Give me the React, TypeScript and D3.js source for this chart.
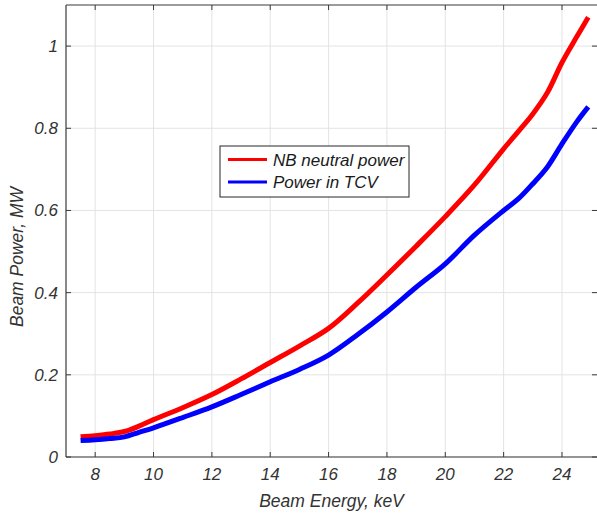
import React from "react";
import * as d3 from "d3";

const energy = [7.5, 8, 8.5, 9, 9.5, 10, 11, 12, 13, 14, 15, 16, 17, 18, 19, 20, 21, 22, 22.5, 23, 23.5, 24, 24.5, 24.9];
const nbNeutralPower = [0.049, 0.052, 0.056, 0.062, 0.075, 0.091, 0.12, 0.152, 0.19, 0.23, 0.27, 0.313, 0.375, 0.443, 0.513, 0.585, 0.662, 0.75, 0.792, 0.835, 0.887, 0.96, 1.022, 1.07];
const powerInTCV = [0.04, 0.042, 0.045, 0.049, 0.06, 0.071, 0.096, 0.122, 0.152, 0.183, 0.213, 0.248, 0.298, 0.353, 0.413, 0.47, 0.54, 0.6, 0.628, 0.665, 0.706, 0.762, 0.815, 0.852];
const xTicks = [8, 10, 12, 14, 16, 18, 20, 22, 24];
const yTicks = [0, 0.2, 0.4, 0.6, 0.8, 1];
const yTickLabels = ["0", "0.2", "0.4", "0.6", "0.8", "1"];
const seriesNames = ["NB neutral power", "Power in TCV"];
const seriesColors = ["#ff0000", "#0000ff"];

const W = 597, H = 515;
const L = 66, R = 597, T = 5, B = 457;

export default function App() {
  const x = d3.scaleLinear().domain([7, 25.2]).range([L, R]);
  const y = d3.scaleLinear().domain([0, 1.1]).range([B, T]);
  const line = d3.line<number>().x((_, i) => x(energy[i])).y((d) => y(d)).curve(d3.curveCatmullRom.alpha(0.5));
  const series = [nbNeutralPower, powerInTCV];
  const font = "'Liberation Sans', Arial, sans-serif";
  const axisColor = "#3a3a3a";
  const textColor = "#333";
  return (
    <svg width={W} height={H} style={{ position: "absolute", left: 0, top: 0, background: "#fff" }} fontFamily={font}>
      <rect x={0} y={0} width={W} height={H} fill="#fff" />
      {xTicks.map((t) => (
        <line key={"gx" + t} x1={x(t)} x2={x(t)} y1={T} y2={B} stroke="#e3e3e3" strokeWidth={1} />
      ))}
      {yTicks.map((t) => (
        <line key={"gy" + t} x1={L} x2={R} y1={y(t)} y2={y(t)} stroke="#e3e3e3" strokeWidth={1} />
      ))}
      {series.map((s, k) => (
        <path key={k} d={line(s) || ""} fill="none" stroke={seriesColors[k]} strokeWidth={5} strokeLinejoin="round" />
      ))}
      <line x1={L} x2={R} y1={T} y2={T} stroke={axisColor} strokeWidth={1.2} />
      <line x1={L} x2={R} y1={B} y2={B} stroke={axisColor} strokeWidth={1.2} />
      <line x1={L} x2={L} y1={T} y2={B} stroke={axisColor} strokeWidth={1.2} />
      {xTicks.map((t) => (
        <g key={"tx" + t}>
          <line x1={x(t)} x2={x(t)} y1={B} y2={B - 5} stroke={axisColor} />
          <line x1={x(t)} x2={x(t)} y1={T} y2={T + 5} stroke={axisColor} />
          <text x={x(t)} y={B + 23} textAnchor="middle" fontSize={17} fontStyle="italic" fill={textColor}>{t}</text>
        </g>
      ))}
      {yTicks.map((t, i) => (
        <g key={"ty" + t}>
          <line x1={L} x2={L + 5} y1={y(t)} y2={y(t)} stroke={axisColor} />
          <line x1={R} x2={R - 5} y1={y(t)} y2={y(t)} stroke={axisColor} />
          <text x={58} y={y(t) + 6} textAnchor="end" fontSize={17} fontStyle="italic" fill={textColor}>{yTickLabels[i]}</text>
        </g>
      ))}
      <text x={(L + R) / 2} y={507} textAnchor="middle" fontSize={17.5} fontStyle="italic" fill={textColor}>Beam Energy, keV</text>
      <text transform={`translate(23, ${257}) rotate(-90)`} textAnchor="middle" fontSize={17.5} fontStyle="italic" fill={textColor}>Beam Power, MW</text>
      <g>
        <rect x={220} y={146} width={189} height={51} fill="#fff" stroke="#262626" strokeWidth={1} />
        {seriesNames.map((n, k) => (
          <g key={n}>
            <line x1={228} x2={267} y1={159.5 + k * 22.5} y2={159.5 + k * 22.5} stroke={seriesColors[k]} strokeWidth={3} />
            <text x={273} y={159.5 + k * 22.5 + 6} fontSize={17} fontStyle="italic" fill="#1a1a1a">{n}</text>
          </g>
        ))}
      </g>
    </svg>
  );
}
